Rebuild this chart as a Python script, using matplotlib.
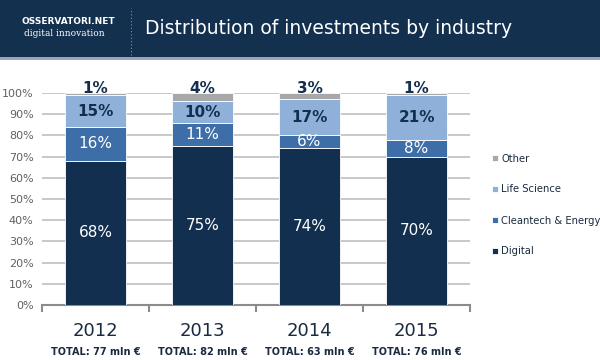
import matplotlib.pyplot as plt
from matplotlib.patches import Rectangle
from matplotlib.lines import Line2D
import matplotlib.transforms as mtransforms

years = ["2012", "2013", "2014", "2015"]
totals = ["TOTAL: 77 mln €", "TOTAL: 82 mln €", "TOTAL: 63 mln €", "TOTAL: 76 mln €"]
digital = [68, 75, 74, 70]
cleantech = [16, 11, 6, 8]
life_science = [15, 10, 17, 21]
other = [1, 4, 3, 1]

series = [
    ("Digital", digital, "#132f4f", "white"),
    ("Cleantech & Energy", cleantech, "#3d6ea8", "white"),
    ("Life Science", life_science, "#8fb0d9", "#132f4f"),
    ("Other", other, "#a8a8a8", "#132f4f"),
]

plt.rcParams["font.family"] = "DejaVu Sans"
fig = plt.figure(figsize=(6, 3.6), dpi=100)

# header band
fig.patches.append(Rectangle((0, 1 - 57 / 360), 1, 57 / 360, transform=fig.transFigure,
                             facecolor="#13304f", edgecolor="none", zorder=0))
fig.patches.append(Rectangle((0, 1 - 60 / 360), 1, 3 / 360, transform=fig.transFigure,
                             facecolor="#9aa6b8", edgecolor="none", zorder=0))
fig.text(0.035, 1 - 22 / 360, "OSSERVATORI.NET", color="white", fontsize=6.5,
         fontweight="bold", va="center", ha="left")
fig.text(0.04, 1 - 33 / 360, "digital innovation", color="white", fontsize=6.5,
         va="center", ha="left", family="DejaVu Serif")
fig.lines.append(Line2D([0.218, 0.218], [1 - 55 / 360, 1 - 8 / 360], transform=fig.transFigure,
                        color="#8090a8", linestyle=(0, (1, 2)), linewidth=0.8))
fig.text(0.242, 1 - 29 / 360, "Distribution of investments by industry", color="white",
         fontsize=13.5, va="center", ha="left")

ax = fig.add_axes([42 / 600, 1 - 305 / 360, 428 / 600, 212 / 360])
x = list(range(len(years)))
bottom = [0] * len(years)
handles = []
for name, vals, color, tcolor in series:
    b = ax.bar(x, vals, bottom=bottom, width=0.57, color=color, edgecolor="white",
               linewidth=0.6, label=name, zorder=3)
    handles.append(b)
    for i, v in enumerate(vals):
        if name == "Other":
            y = 100 + 2
        else:
            y = bottom[i] + v / 2
        ax.text(x[i], y, f"{v}%", ha="center", va="center", color=tcolor, fontsize=11,
                fontweight="bold" if name in ("Life Science", "Other") else "normal",
                zorder=4)
    bottom = [bottom[i] + vals[i] for i in range(len(vals))]

ax.set_xlim(-0.5, len(years) - 0.5)
ax.set_ylim(0, 100)
ax.set_yticks(range(0, 101, 10))
ax.set_yticklabels([f"{v}%" for v in range(0, 101, 10)], color="#606060", fontsize=8)
ax.yaxis.grid(True, color="#bfbfbf", linewidth=1.2, zorder=0)
ax.tick_params(axis="y", length=0, pad=6)
for s in ["top", "right", "left"]:
    ax.spines[s].set_visible(False)
ax.spines["bottom"].set_color("#8c8c8c")
ax.spines["bottom"].set_linewidth(1.5)

ax.set_xticks(x)
ax.set_xticklabels(years, fontsize=13, color="#1a2a40")
ax.tick_params(axis="x", which="major", length=0, pad=12)
ax.set_xticks([i - 0.5 for i in range(len(years) + 1)], minor=True)
ax.tick_params(axis="x", which="minor", length=5, width=1.5, color="#8c8c8c", direction="out")

trans = mtransforms.blended_transform_factory(ax.transData, fig.transFigure)
for i, t in enumerate(totals):
    ax.text(x[i], 1 - 352 / 360, t, transform=trans, ha="center", va="center",
            fontsize=7, fontweight="bold", color="#1a2a40")

leg = fig.legend(handles[::-1], [s[0] for s in series][::-1], loc="center left",
                 bbox_to_anchor=(0.805, 1 - 205 / 360), frameon=False,
                 prop={"size": 7.2},
                 handlelength=0.6, handleheight=0.6, handletextpad=0.3, labelspacing=2.1)
for t in leg.get_texts():
    t.set_color("#1a2a40")

fig.savefig("out.png", dpi=100)
plt.close(fig)
